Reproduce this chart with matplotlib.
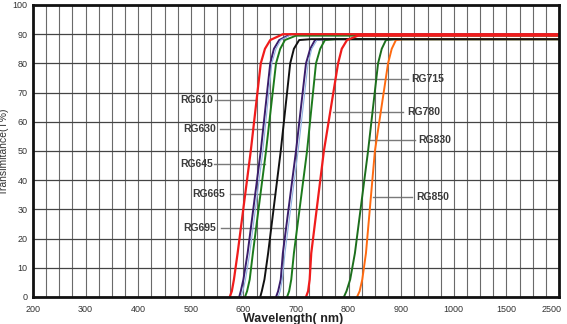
import numpy as np
import matplotlib.pyplot as plt
from matplotlib.transforms import ScaledTranslation

plt.rcParams['font.family'] = ['Liberation Sans', 'DejaVu Sans']

# transmittance levels (%)
levels = [0, 2, 6, 15, 50, 80, 85, 88]

# wavelength (nm) where each filter reaches the levels above
rg610 = [574, 578, 582, 589, 614, 633, 641, 651]
rg630 = [592, 595, 600, 608, 633, 651, 658, 668]
rg630_edge = [595, 599, 604, 612, 637, 654, 662, 671]
rg645 = [603, 607, 612, 618, 643, 662, 670, 679]
rg665 = [632, 635, 640, 647, 671, 689, 696, 706]
rg695 = [662, 666, 671, 675, 700, 719, 727, 736]
rg695_edge = [666, 670, 674, 679, 704, 723, 730, 740]
rg715 = [683, 687, 691, 696, 721, 738, 746, 755]
rg780 = [719, 723, 726, 729, 753, 780, 787, 797]
rg830 = [791, 796, 803, 812, 837, 856, 863, 871]
rg850 = [816, 821, 826, 833, 850, 875, 882, 890]

# where each curve levels off, and the plateau value (%)
top_wl = [675, 690, 692, 700, 729, 757, 761, 776, 818, 886, 903]
plateau = [90, 90, 90, 89.5, 88.3, 88.3, 88.3, 88.3, 89.5, 88.3, 88.3]

series = [rg610, rg630, rg630_edge, rg645, rg665, rg695, rg695_edge,
          rg715, rg780, rg830, rg850]
colors = ['#f01c1c', '#3a1d6b', '#8fb0e0', '#1c7a1c', '#111111', '#3a1d6b',
          '#8fb0e0', '#1c7a1c', '#f01c1c', '#1c6e1c', '#ff6a10']
widths = [1.6, 1.4, 0.8, 1.4, 1.4, 1.4, 0.8, 1.4, 1.6, 1.4, 1.4]
layers = [4, 3, 3, 3, 3.5, 3, 3, 3, 4, 3, 3]

# callouts: name, text x (nm), text y (%), leader start/end (nm)
names = ['RG610', 'RG630', 'RG645', 'RG665', 'RG695',
         'RG715', 'RG780', 'RG830', 'RG850']
text_x = [480, 485, 480, 502, 485, 920, 911, 932, 928]
text_y = [67.5, 57.5, 45.5, 35.3, 23.6, 74.7, 63.4, 53.8, 34.2]
lead_a = [546, 556, 544, 575, 557, 736, 770, 840, 846]
lead_b = [622, 637, 641, 660, 681, 913, 903, 926, 920]

x_ticks = [200, 300, 400, 500, 600, 700, 800, 900, 1000, 1500, 2500]

# axis runs 25 nm per grid cell up to 1000 nm, then compresses
knots_nm = [200, 1000, 1500, 2500]
knots_pos = [0, 32, 36, 40]


def fwd(x):
    return np.interp(x, knots_nm, knots_pos)


def inv(p):
    return np.interp(p, knots_pos, knots_nm)


fig = plt.figure(figsize=(5.67, 3.24), dpi=100)
ax = fig.add_axes([33 / 567, 27 / 324, 526 / 567, 292 / 324])
ax.set_xscale('function', functions=(fwd, inv))
ax.set_xlim(200, 2500)
ax.set_ylim(0, 100)

minor = list(np.arange(225, 1000, 25)) + [1125, 1250, 1375, 1750, 2000, 2250]
ax.set_xticks(x_ticks)
ax.set_xticks(minor, minor=True)
ax.set_yticks(range(0, 101, 10))
ax.set_xticklabels([str(t) for t in x_ticks])
ax.grid(True, which='both', axis='x', color='#6a6a6a', lw=0.8, zorder=0)
ax.grid(True, axis='y', color='#444444', lw=0.9, zorder=0)
ax.tick_params(which='both', length=0, labelsize=6.5, labelcolor='#333333')
ax.tick_params(axis='x', pad=6)
ax.tick_params(axis='y', pad=4)
last = ax.get_xticklabels()[-1]
last.set_transform(last.get_transform() + ScaledTranslation(-7 / 100, 0, fig.dpi_scale_trans))

for sp in ax.spines.values():
    sp.set_linewidth(2)
    sp.set_color('#111111')
    sp.set_zorder(5)

# leader lines go under the curves
for a, b, y in zip(lead_a, lead_b, text_y):
    ax.plot([a, b], [y, y], color='#7a7a7a', lw=1.0, zorder=1)

for wl, tw, pl, c, w, z in zip(series, top_wl, plateau, colors, widths, layers):
    xs = wl + [tw, 2500]
    ys = levels + [pl, pl]
    ax.plot(xs, ys, color=c, lw=w, zorder=z, solid_capstyle='butt')

for n, x, y in zip(names, text_x, text_y):
    ax.text(x, y, n, fontsize=7.5, fontweight='bold', color='#3a3a3a',
            ha='left', va='center', zorder=4)

ax.set_xlabel('Wavelength( nm)', fontsize=9, fontweight='bold', color='#222222')
ax.xaxis.set_label_coords(0.495, -0.055)
ax.xaxis.label.set_va('top')
ax.set_ylabel('Transimitance(T%)', fontsize=7.5, color='#333333')
ax.yaxis.set_label_coords(-0.046, 0.5)

fig.savefig('out.png', dpi=100)
